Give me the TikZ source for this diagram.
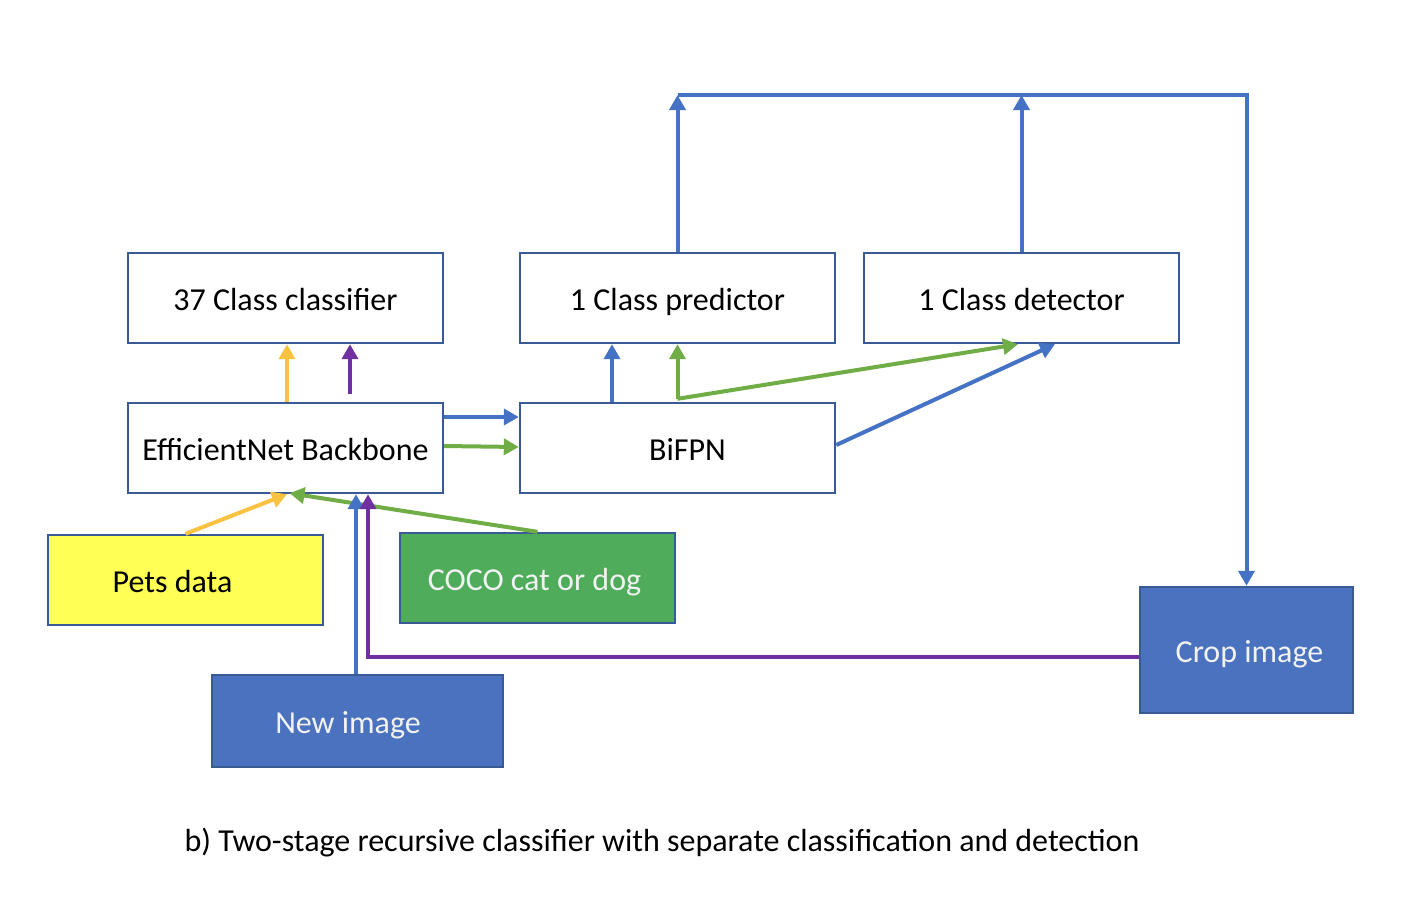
\documentclass[tikz,border=0pt]{standalone}
\usepackage{fontspec}
\setmainfont{Carlito}
\usetikzlibrary{arrows.meta}
\definecolor{boxline}{HTML}{3A5A96}
\definecolor{flowblue}{HTML}{4472C4}
\definecolor{flowgreen}{HTML}{70AD47}
\definecolor{flowyellow}{HTML}{F9C241}
\definecolor{flowpurple}{HTML}{7030A0}
\definecolor{petsfill}{HTML}{FFFF55}
\definecolor{cocofill}{HTML}{4EAC5B}
\definecolor{imgfill}{HTML}{4A72BE}
\definecolor{lighttext}{HTML}{F2F2F2}
\begin{document}
\begin{tikzpicture}[x=1pt,y=-1pt,
  box/.style={draw=boxline,line width=2.4pt,minimum width=315pt,minimum height=90pt,inner sep=0pt,
    text height=30pt,text depth=6pt,font=\fontsize{32}{38}\selectfont},
  flow/.style={line width=4pt,-{Triangle[length=15pt,width=16pt]}},
  ]
  \useasboundingbox (0,0) rectangle (1406,906);

  % blocks
  \node[box] (cls37) at (285.5,298) {37 Class classifier};
  \node[box] (pred) at (677.5,298) {1 Class predictor};
  \node[box] (det) at (1021.5,298) {1 Class detector};
  \node[box] (eff) at (285.5,448) {EfficientNet Backbone};
  \node[box] (bifpn) at (677.5,448) {\hspace*{20pt}BiFPN};

  % inputs
  \node[box,fill=petsfill,minimum width=275pt] (pets) at (185.5,580) {\hspace*{-26pt}Pets data};
  \node[box,fill=cocofill,text=lighttext,minimum width=275pt] (coco) at (537.5,578) {\hspace*{-6pt}COCO cat or dog};
  \node[box,fill=imgfill,text=lighttext,minimum width=291pt,minimum height=92pt] (newimg) at (357.5,721) {\hspace*{-19pt}New image};
  \node[box,fill=imgfill,text=lighttext,minimum width=213pt,minimum height=126pt] (crop) at (1246.5,650) {\hspace*{6pt}Crop image};

  \coordinate (loopL) at (677.5,95);
  \coordinate (loopR) at (1246.5,95);

  % training flows
  \draw[flow,flowyellow] ([xshift=1.5]eff.north) -- ([xshift=1.5]cls37.south);
  \draw[flow,flowyellow] (pets.north) -- ([xshift=1.5]eff.south);
  \draw[flow,flowgreen] (coco.north) -- ([xshift=4,yshift=1]eff.south);
  \draw[flow,flowgreen] ([yshift=2]eff.east) -- ([yshift=1]bifpn.west);
  \draw[flow,flowgreen] ([yshift=3]bifpn.north) -- (pred.south);
  \draw[flow,flowgreen] ([yshift=3]bifpn.north) -- ([xshift=-3.5]det.south);

  % inference flows
  \draw[flow,flowblue] ([xshift=-1.5]newimg.north) -- ([xshift=70.5]eff.south);
  \draw[flow,flowblue] ([yshift=31]eff.east) -- ([yshift=31]bifpn.west);
  \draw[flow,flowblue] ([xshift=-65.5]bifpn.north) -- ([xshift=-65.5]pred.south);
  \draw[flow,flowblue] ([yshift=3]bifpn.east) -- ([xshift=33.5]det.south);
  \draw[flow,flowblue] (pred.north) -- (loopL);
  \draw[flow,flowblue] (det.north) -- (det.north |- loopL);
  \draw[flow,flowblue] (loopL) -- (loopR) -- (crop.north);
  \draw[flow,flowpurple] ([yshift=-7]crop.west) -| ([xshift=82.5]eff.south);
  \draw[flow,flowpurple] ([xshift=64.5,yshift=8]eff.north) -- ([xshift=64.5]cls37.south);

  \node[font=\fontsize{32}{38}\selectfont] (caption) at (662,843) {b) Two-stage recursive classifier with separate classification and detection};
\end{tikzpicture}
\end{document}
